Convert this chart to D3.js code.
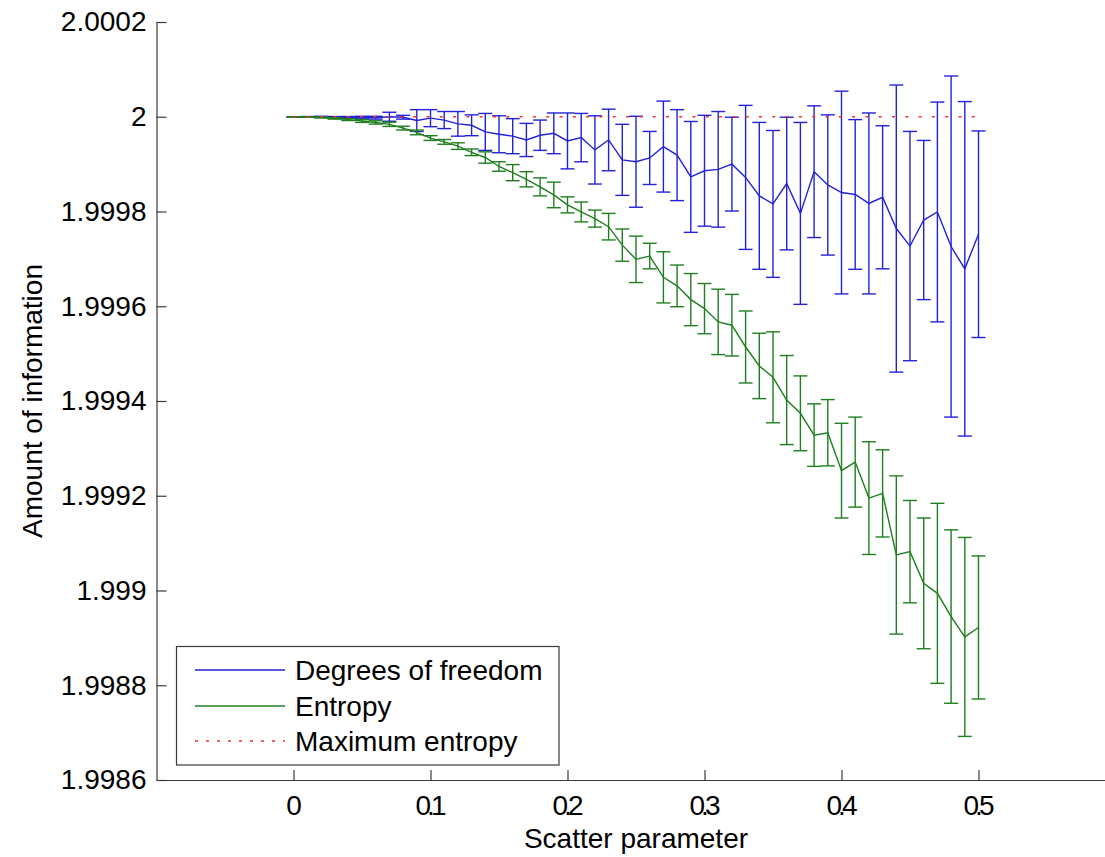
<!DOCTYPE html>
<html>
<head>
<meta charset="utf-8">
<script src="https://cdn.jsdelivr.net/npm/d3@7"></script>
<style>
  body { margin: 0; background: #fff; }
  text { font-family: "Liberation Sans", Arial, sans-serif; fill: #000; }
</style>
</head>
<body>
<div id="chart"></div>
<script>
// scatter parameter (x)
var scatterParam = [0, 0.01, 0.02, 0.03, 0.04, 0.05, 0.06, 0.07, 0.08, 0.09,
    0.10, 0.11, 0.12, 0.13, 0.14, 0.15, 0.16, 0.17, 0.18, 0.19,
    0.20, 0.21, 0.22, 0.23, 0.24, 0.25, 0.26, 0.27, 0.28, 0.29,
    0.30, 0.31, 0.32, 0.33, 0.34, 0.35, 0.36, 0.37, 0.38, 0.39,
    0.40, 0.41, 0.42, 0.43, 0.44, 0.45, 0.46, 0.47, 0.48, 0.49, 0.50];

// Degrees of freedom : mean + error (half length)
var dofMean = [2.000000, 2.000000, 2.000000, 1.9999995, 1.999999, 1.999999, 1.999998, 2.000000, 1.999999, 1.999992,
    1.999997, 1.999993, 1.999985, 1.999982, 1.999968, 1.999963, 1.999959, 1.999951, 1.999961, 1.999965,
    1.999949, 1.999956, 1.999930, 1.999951, 1.999909, 1.999905, 1.999913, 1.999937, 1.999919, 1.999873,
    1.999886, 1.999889, 1.999900, 1.999872, 1.999833, 1.999816, 1.999859, 1.999796, 1.999884, 1.999856,
    1.999840, 1.999836, 1.999817, 1.999830, 1.999764, 1.999727, 1.999782, 1.999799, 1.999726, 1.999679, 1.999752];
var dofErr = [0, 5e-7, 1e-6, 1e-6, 1.5e-6, 2e-6, 3e-6, 9.5e-6, 4e-6, 2.3e-5,
    1.8e-5, 1.8e-5, 2.6e-5, 2.2e-5, 3.9e-5, 3.9e-5, 3.7e-5, 3.5e-5, 3.2e-5, 4.3e-5,
    5.9e-5, 5.1e-5, 7.2e-5, 6.5e-5, 7.5e-5, 9.6e-5, 5.6e-5, 9.6e-5, 9.6e-5, 1.17e-4,
    1.17e-4, 1.22e-4, 9.9e-5, 1.52e-4, 1.55e-4, 1.55e-4, 1.40e-4, 1.92e-4, 1.39e-4, 1.48e-4,
    2.14e-4, 1.58e-4, 1.91e-4, 1.51e-4, 3.03e-4, 2.42e-4, 1.68e-4, 2.32e-4, 3.60e-4, 3.53e-4, 2.18e-4];

// Entropy : mean + error
var entMean = [2.000000, 1.9999995, 1.9999985, 1.9999965, 1.999994, 1.999991, 1.999988, 1.999984, 1.999976, 1.999967,
    1.999955, 1.999947, 1.999938, 1.999925, 1.999914, 1.999895, 1.999882, 1.999868, 1.999852, 1.999835,
    1.999814, 1.999799, 1.999785, 1.999768, 1.999729, 1.999699, 1.999706, 1.999661, 1.999643, 1.999614,
    1.999595, 1.999567, 1.999560, 1.999514, 1.999474, 1.999450, 1.999402, 1.999374, 1.999328, 1.999333,
    1.999253, 1.999271, 1.999195, 1.999205, 1.999075, 1.999082, 1.999015, 1.998994, 1.998945, 1.998902, 1.998922];
var entErr = [0, 5e-7, 1e-6, 1.5e-6, 2e-6, 3e-6, 3.5e-6, 4.5e-6, 4e-6, 5e-6,
    5e-6, 5e-6, 7e-6, 7e-6, 1.2e-5, 1.0e-5, 1.7e-5, 1.6e-5, 1.9e-5, 2.7e-5,
    1.7e-5, 2.1e-5, 1.8e-5, 2.8e-5, 3.4e-5, 4.9e-5, 2.7e-5, 5.4e-5, 4.4e-5, 5.5e-5,
    5.3e-5, 6.9e-5, 6.5e-5, 7.6e-5, 6.9e-5, 9.6e-5, 9.4e-5, 7.9e-5, 6.6e-5, 7.0e-5,
    1.00e-4, 9.5e-5, 1.19e-4, 9.2e-5, 1.67e-4, 1.08e-4, 1.38e-4, 1.90e-4, 1.83e-4, 2.10e-4, 1.51e-4];

// maximum entropy (log2 4)
var maxEntropy = 2;

// ticks
var xTicks = [0, 0.1, 0.2, 0.3, 0.4, 0.5];
var xTickLabels = ["0", "0.1", "0.2", "0.3", "0.4", "0.5"];
var yTicks = [2.0002, 2, 1.9998, 1.9996, 1.9994, 1.9992, 1.999, 1.9988, 1.9986];
var yTickLabels = ["2.0002", "2", "1.9998", "1.9996", "1.9994", "1.9992", "1.999", "1.9988", "1.9986"];

var legendNames = ["Degrees of freedom", "Entropy", "Maximum entropy"];

var W = 1105, H = 857;
var axisColor = "#3a3a3a";
var blue = "#2222d8", green = "#1f7f1f", red = "#ee3333";

var svg = d3.select("#chart").append("svg")
    .attr("width", W)
    .attr("height", H);

// scales (axis box runs past the right edge of the picture)
var x = d3.scaleLinear().domain([-0.1, 0.6]).range([156.5, 1115.5]);
var y = d3.scaleLinear().domain([1.9986, 2.0002]).range([780, 22]);

// y axis, ticks pointing inward
var yAxis = svg.append("g")
    .attr("transform", "translate(" + x(-0.1) + ",0)")
    .call(d3.axisLeft(y).tickValues(yTicks)
        .tickFormat(function(d, i) { return yTickLabels[i]; })
        .tickSize(-10).tickSizeOuter(0).tickPadding(10));

// x axis
var xAxis = svg.append("g")
    .attr("transform", "translate(0," + y(1.9986) + ")")
    .call(d3.axisBottom(x).tickValues(xTicks)
        .tickFormat(function(d, i) { return xTickLabels[i]; })
        .tickSize(-10).tickSizeOuter(0).tickPadding(15));

[yAxis, xAxis].forEach(function(g) {
    g.select(".domain").attr("stroke", axisColor).attr("stroke-width", 1.2);
    g.selectAll(".tick line").attr("stroke", axisColor).attr("stroke-width", 1.2);
    g.selectAll(".tick text").style("font-size", "28px").attr("fill", "#000");
});
xAxis.selectAll(".tick text").style("letter-spacing", "-4px").attr("dx", "-2px");

// axis titles
svg.append("text")
    .attr("x", x(0.25))
    .attr("y", 848)
    .attr("text-anchor", "middle")
    .style("font-size", "28px")
    .text("Scatter parameter");

svg.append("text")
    .attr("transform", "translate(42," + ((y(2.0002) + y(1.9986)) / 2) + ") rotate(-90)")
    .attr("text-anchor", "middle")
    .style("font-size", "28px")
    .text("Amount of information");

// error bar series
function drawSeries(mean, err, color) {
    var g = svg.append("g")
        .attr("stroke", color)
        .attr("stroke-width", 1.4)
        .attr("fill", "none");
    var capW = 7;
    scatterParam.forEach(function(xv, i) {
        var top = y(mean[i] + err[i]), bot = y(mean[i] - err[i]), cx = x(xv);
        g.append("line").attr("x1", cx).attr("x2", cx).attr("y1", top).attr("y2", bot);
        g.append("line").attr("x1", cx - capW).attr("x2", cx + capW).attr("y1", top).attr("y2", top);
        g.append("line").attr("x1", cx - capW).attr("x2", cx + capW).attr("y1", bot).attr("y2", bot);
    });
    var line = d3.line()
        .x(function(d, i) { return x(scatterParam[i]); })
        .y(function(d) { return y(d); });
    g.append("path").attr("d", line(mean));
}

drawSeries(dofMean, dofErr, blue);
drawSeries(entMean, entErr, green);

// maximum entropy, dotted
svg.append("line")
    .attr("x1", x(scatterParam[0]))
    .attr("x2", x(scatterParam[scatterParam.length - 1]))
    .attr("y1", y(maxEntropy))
    .attr("y2", y(maxEntropy))
    .attr("stroke", red)
    .attr("stroke-width", 1.4)
    .attr("stroke-dasharray", "3,10.3");

// legend
var legend = svg.append("g");
legend.append("rect")
    .attr("x", 176.5).attr("y", 646.5)
    .attr("width", 382.5).attr("height", 118.5)
    .attr("fill", "#fff")
    .attr("stroke", axisColor)
    .attr("stroke-width", 1.2);

var legendColors = [blue, green, red];
var legendY = [670, 706, 741];
legendNames.forEach(function(name, i) {
    legend.append("line")
        .attr("x1", 195).attr("x2", 285)
        .attr("y1", legendY[i]).attr("y2", legendY[i])
        .attr("stroke", legendColors[i])
        .attr("stroke-width", 1.4)
        .attr("stroke-dasharray", i == 2 ? "3,8" : null);
    legend.append("text")
        .attr("x", 295)
        .attr("y", legendY[i] + 10)
        .style("font-size", "28px")
        .text(name);
});
</script>
</body>
</html>
